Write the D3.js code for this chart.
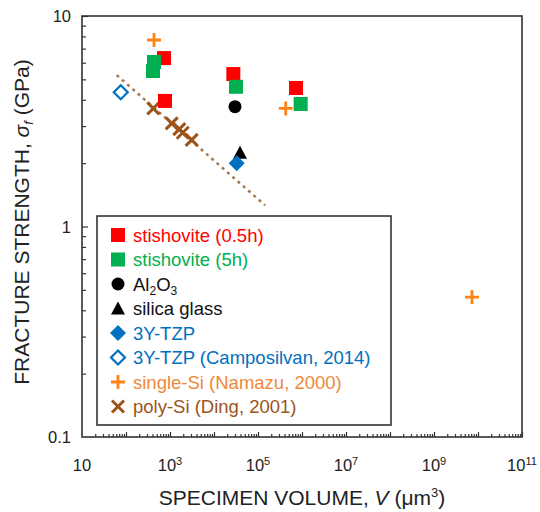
<!DOCTYPE html>
<html><head><meta charset="utf-8">
<script src="https://cdn.jsdelivr.net/npm/d3@7"></script>
<style>body{margin:0;background:#fff}svg{display:block}</style>
</head><body>
<script>
// ---- data ----
const stish05 = [[731, 6.31], [770, 3.95], [27500, 5.30], [731000, 4.55]];
const stish5 = [[433, 6.05], [411, 5.48], [31600, 4.61], [933000, 3.82]];
const alumina = [[30000, 3.71]];
const silicaGlass = [[39000, 2.24]];
const tzp = [[32800, 2.0]];
const tzpCamposilvan = [[76, 4.34]];
const singleSi = [[433, 7.69], [427000, 3.64], [7.3e9, 0.462]];
const polySi = [[417, 3.64], [1094, 3.09], [1626, 2.90], [1945, 2.79], [3110, 2.58]];
const fitLine = [[61.5, 5.24], [145000, 1.26]];
const xTickValues = [10, 1e3, 1e5, 1e7, 1e9, 1e11];
const xTickExp = ["", "3", "5", "7", "9", "11"];
const yTickValues = [0.1, 1, 10];
const yTickLabels = ["0.1", "1", "10"];

const W = 540, H = 512;
const m = {l: 82, r: 522, t: 16, b: 437};
const svg = d3.select("body").append("svg").attr("width", W).attr("height", H)
  .style("font-family", "'Liberation Sans', Arial, sans-serif");

const x = d3.scaleLog().domain([10, 1e11]).range([m.l, m.r]);
const y = d3.scaleLog().domain([0.1, 10]).range([m.b, m.t]);

// minor ticks
const xMinor = [];
for (let e = 1; e < 11; e++) for (let k = 2; k <= 10; k++) xMinor.push(k * Math.pow(10, e));
const yMinor = [];
for (let e = -1; e < 1; e++) for (let k = 2; k <= 10; k++) yMinor.push(k * Math.pow(10, e));

const axisColor = "#333";
const gx = svg.append("g").attr("transform", `translate(0,${m.b})`)
  .call(d3.axisBottom(x).tickValues(xMinor).tickSizeInner(-3).tickSizeOuter(0).tickFormat(""));
gx.selectAll("line").filter(d => Math.abs(Math.log10(d) - Math.round(Math.log10(d))) < 1e-6).attr("y2", -5);
gx.select(".domain").remove();
gx.selectAll("line").attr("stroke", axisColor).attr("stroke-width", 1.2);

const gy = svg.append("g").attr("transform", `translate(${m.l},0)`)
  .call(d3.axisLeft(y).tickValues(yMinor).tickSizeInner(-4).tickSizeOuter(0).tickFormat(""));
gy.selectAll("line").filter(d => Math.abs(Math.log10(d) - Math.round(Math.log10(d))) < 1e-6).attr("x2", 6);
gy.select(".domain").remove();
gy.selectAll("line").attr("stroke", axisColor).attr("stroke-width", 1.2);

// frame
svg.append("rect").attr("x", m.l).attr("y", m.t).attr("width", m.r - m.l).attr("height", m.b - m.t)
  .attr("fill", "none").attr("stroke", axisColor).attr("stroke-width", 1.6);

// tick labels
const xl = svg.append("g").attr("font-size", 16.5).attr("fill", "#222");
xTickValues.forEach((v, i) => {
  const t = xl.append("text").attr("x", x(v)).attr("y", 471).attr("text-anchor", "middle");
  t.append("tspan").text("10");
  if (xTickExp[i]) t.append("tspan").attr("font-size", 11).attr("dy", -6).text(xTickExp[i]);
});
const yl = svg.append("g").attr("font-size", 16.5).attr("fill", "#222");
yTickValues.forEach((v, i) => {
  yl.append("text").attr("x", 71).attr("y", y(v) + 6).attr("text-anchor", "end").text(yTickLabels[i]);
});

// axis titles
const xt = svg.append("text").attr("x", 302).attr("y", 505).attr("text-anchor", "middle")
  .attr("font-size", 21).attr("fill", "#222");
xt.append("tspan").text("SPECIMEN VOLUME, ");
xt.append("tspan").attr("font-style", "italic").text("V");
xt.append("tspan").text(" (μm");
xt.append("tspan").attr("font-size", 13).attr("dy", -8).text("3");
xt.append("tspan").attr("dy", 8).text(")");

const yt = svg.append("text").attr("transform", "translate(29,222) rotate(-90)").attr("text-anchor", "middle")
  .attr("font-size", 21).attr("fill", "#222");
yt.append("tspan").text("FRACTURE STRENGTH, ");
yt.append("tspan").attr("font-style", "italic").text("σ");
yt.append("tspan").attr("font-style", "italic").attr("font-size", 13).attr("dy", 4).text("f");
yt.append("tspan").attr("dy", -4).text(" (GPa)");

// colors
const RED = "#ff0000", GREEN = "#00b050", BLACK = "#000", BLUE = "#0070c0", ORANGE = "#ff8214", BROWN = "#9c5418";

// fit line
svg.append("line").attr("x1", x(fitLine[0][0])).attr("y1", y(fitLine[0][1]))
  .attr("x2", x(fitLine[1][0])).attr("y2", y(fitLine[1][1]))
  .attr("stroke", "#a8784e").attr("stroke-width", 2.5).attr("stroke-dasharray", "3,4");

function square(g, cx, cy, c, s = 14) {
  g.append("rect").attr("x", cx - s / 2).attr("y", cy - s / 2).attr("width", s).attr("height", s).attr("fill", c);
}
function circle(g, cx, cy, c) { g.append("circle").attr("cx", cx).attr("cy", cy).attr("r", 6.5).attr("fill", c); }
function triangle(g, cx, cy, c) {
  g.append("path").attr("d", `M${cx},${cy - 7}L${cx + 7},${cy + 6}L${cx - 7},${cy + 6}Z`).attr("fill", c);
}
function diamond(g, cx, cy, c, open) {
  const r = open ? 7 : 8;
  g.append("path").attr("d", `M${cx},${cy - r}L${cx + r},${cy}L${cx},${cy + r}L${cx - r},${cy}Z`)
    .attr("fill", open ? "#fff" : c).attr("stroke", c).attr("stroke-width", open ? 2.2 : 0);
}
function plus(g, cx, cy, c) {
  g.append("path").attr("d", `M${cx - 7},${cy}H${cx + 7}M${cx},${cy - 7}V${cy + 7}`)
    .attr("stroke", c).attr("stroke-width", 2.8).attr("fill", "none");
}
function cross(g, cx, cy, c) {
  g.append("path").attr("d", `M${cx - 6},${cy - 6}L${cx + 6},${cy + 6}M${cx + 6},${cy - 6}L${cx - 6},${cy + 6}`)
    .attr("stroke", c).attr("stroke-width", 3).attr("fill", "none");
}

const pts = svg.append("g");
polySi.forEach(d => cross(pts, x(d[0]), y(d[1]), BROWN));
tzpCamposilvan.forEach(d => diamond(pts, x(d[0]), y(d[1]), BLUE, true));
stish05.forEach(d => square(pts, x(d[0]), y(d[1]), RED));
stish5.forEach(d => square(pts, x(d[0]), y(d[1]), GREEN));
alumina.forEach(d => circle(pts, x(d[0]), y(d[1]), BLACK));
silicaGlass.forEach(d => triangle(pts, x(d[0]), y(d[1]), BLACK));
tzp.forEach(d => diamond(pts, x(d[0]), y(d[1]), BLUE, false));
singleSi.forEach(d => plus(pts, x(d[0]), y(d[1]), ORANGE));

// legend
const leg = svg.append("g");
leg.append("rect").attr("x", 97).attr("y", 216).attr("width", 294).attr("height", 209)
  .attr("fill", "#fff").attr("stroke", axisColor).attr("stroke-width", 1.6);
const legendItems = [
  {f: square, c: RED, tc: RED, t: ["stishovite (0.5h)"]},
  {f: square, c: GREEN, tc: GREEN, t: ["stishovite (5h)"]},
  {f: circle, c: BLACK, tc: "#111", t: ["Al", ["2"], "O", ["3"]]},
  {f: triangle, c: BLACK, tc: "#111", t: ["silica glass"]},
  {f: diamond, c: BLUE, tc: BLUE, t: ["3Y-TZP"]},
  {f: (g, cx, cy, c) => diamond(g, cx, cy, c, true), c: BLUE, tc: BLUE, t: ["3Y-TZP (Camposilvan, 2014)"]},
  {f: plus, c: ORANGE, tc: "#f0883a", t: ["single-Si (Namazu, 2000)"]},
  {f: cross, c: BROWN, tc: BROWN, t: ["poly-Si (Ding, 2001)"]},
];
legendItems.forEach((it, i) => {
  const cy = 235 + i * 24.5;
  if (it.f === square) square(leg, 118, cy, it.c, 14); else it.f(leg, 118, cy, it.c);
  const tx = leg.append("text").attr("x", 133).attr("y", cy + 6.5).attr("font-size", 18.5).attr("fill", it.tc);
  let sub = false;
  it.t.forEach(p => {
    if (Array.isArray(p)) { tx.append("tspan").attr("font-size", 12).attr("dy", 4).text(p[0]); sub = true; }
    else { const ts = tx.append("tspan").text(p); if (sub) { ts.attr("dy", -4); sub = false; } }
  });
});
</script>
</body></html>
